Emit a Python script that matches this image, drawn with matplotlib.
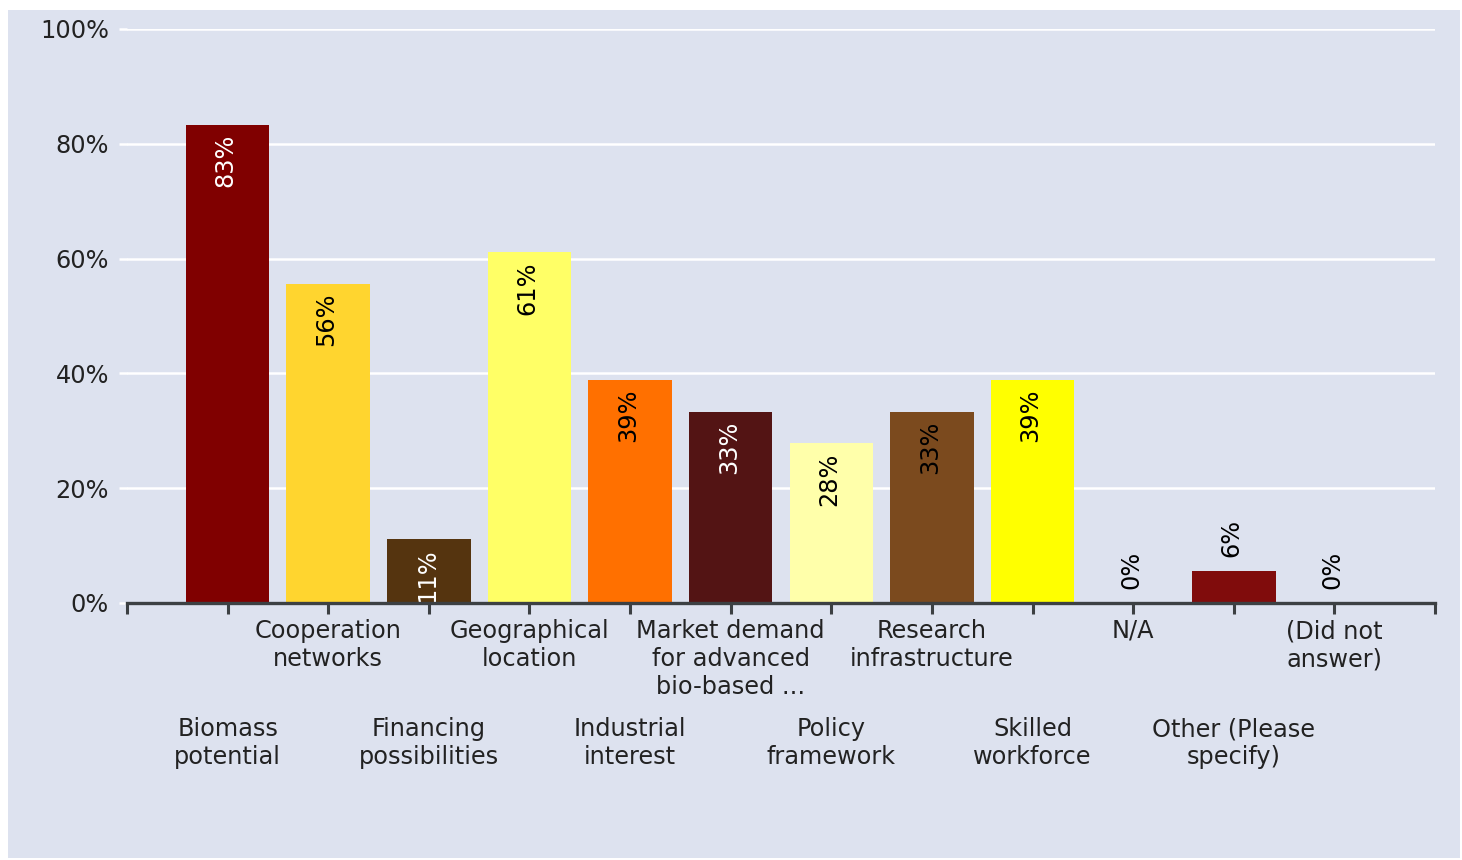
import matplotlib.pyplot as plt
from matplotlib.patches import Rectangle

# Data (18 respondents)
categories = ['Biomass\npotential', 'Cooperation\nnetworks', 'Financing\npossibilities',
              'Geographical\nlocation', 'Industrial\ninterest',
              'Market demand\nfor advanced\nbio-based ...', 'Policy\nframework',
              'Research\ninfrastructure', 'Skilled\nworkforce', 'N/A',
              'Other (Please\nspecify)', '(Did not\nanswer)']
values = [83.3, 55.6, 11.1, 61.1, 38.9, 33.3, 27.8, 33.3, 38.9, 0, 5.6, 0]
bar_colors = ['#800000', '#ffd52f', '#55340f', '#ffff66', '#ff7000', '#531414',
              '#ffffaa', '#7b4a1e', '#ffff00', '#800000', '#800c0c', '#800000']
text_colors = ['white', 'black', 'white', 'black', 'black', 'white',
               'black', 'black', 'black', 'black', 'black', 'black']

BG = '#dde2ef'
AXIS = '#3c4043'
FS = 17.3

plt.rcParams['font.family'] = 'DejaVu Sans'
fig = plt.figure(figsize=(14.62, 8.6), dpi=100)
fig.patch.set_facecolor('white')
fig.patches.append(Rectangle((8 / 1462, 2 / 860), 1452 / 1462, 848 / 860,
                             transform=fig.transFigure, facecolor=BG,
                             edgecolor='none', zorder=-5))

ax = fig.add_axes([127 / 1462, (860 - 603) / 860, 1308 / 1462, 574 / 860])
ax.patch.set_alpha(0)

x = list(range(1, len(values) + 1))
ax.bar(x, values, width=0.83, color=bar_colors, zorder=3)

ax.set_xlim(0, len(values) + 1)
ax.set_ylim(0, 100)
ax.set_yticks([0, 20, 40, 60, 80, 100])
ax.set_yticklabels(['0%', '20%', '40%', '60%', '80%', '100%'], fontsize=FS, color='#222222')
ax.grid(axis='y', color='white', lw=1.8, zorder=1)
ax.tick_params(axis='y', color='white', length=6, width=1.8, pad=7)

ax.set_xticks(range(0, len(values) + 2))
ax.set_xticklabels([])
ax.tick_params(axis='x', color=AXIS, length=8, width=2.2, direction='out')

for s in ['left', 'top', 'right']:
    ax.spines[s].set_visible(False)
ax.spines['bottom'].set_color(AXIS)
ax.spines['bottom'].set_linewidth(2.4)
ax.spines['bottom'].set_zorder(5)

# category labels in two staggered rows
for i, lab in enumerate(categories):
    off = -114 if i % 2 == 0 else -16
    ax.annotate(lab, xy=(x[i], 0), xycoords='data', xytext=(0, off),
                textcoords='offset pixels', ha='center', va='top',
                multialignment='center', fontsize=FS, color='#222222',
                linespacing=1.22, annotation_clip=False)

# value labels
for i, v in enumerate(values):
    lab = '%d%%' % round(v)
    if v >= 10:
        ax.annotate(lab, xy=(x[i], v), xytext=(-2, -9), textcoords='offset pixels',
                    rotation=90, ha='center', va='top', fontsize=FS,
                    color=text_colors[i], zorder=4, clip_on=True)
    else:
        ax.annotate(lab, xy=(x[i], v), xytext=(-2, 14), textcoords='offset pixels',
                    rotation=90, ha='center', va='bottom', fontsize=FS,
                    color=text_colors[i], zorder=4)

fig.savefig('out.png', dpi=100, facecolor=fig.get_facecolor())
